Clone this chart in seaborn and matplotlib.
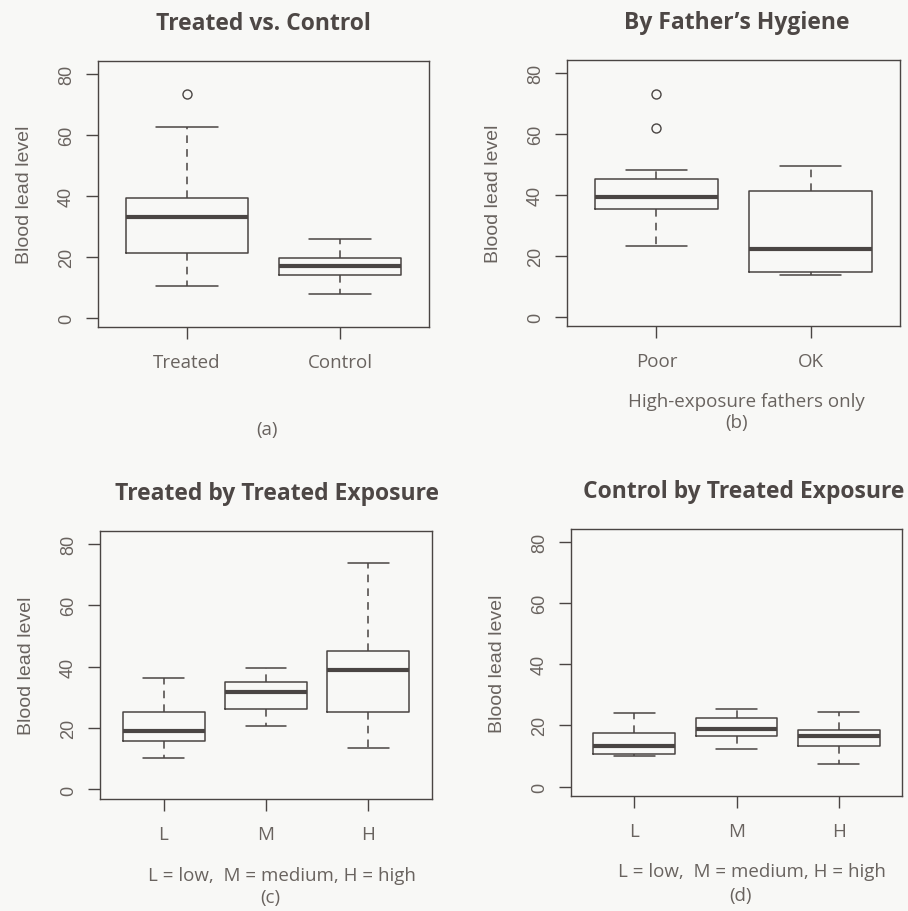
import numpy as np
import pandas as pd
import matplotlib
matplotlib.use("Agg")
import matplotlib.pyplot as plt
import seaborn as sns

#valores: bigode inferior, Q1, mediana, Q3, bigode superior, outliers
#(a) Treated vs. Control
grupos_a = ["Treated", "Control"]
baixo_a = [10.4, 7.8]
q1_a = [21.2, 13.9]
mediana_a = [32.9, 16.8]
q3_a = [39.3, 19.7]
alto_a = [62.4, 25.8]
outliers_a = [[73.3], []]

#(b) By Father's Hygiene
grupos_b = ["Poor", "OK"]
baixo_b = [23.1, 13.6]
q1_b = [35.2, 14.6]
mediana_b = [39.1, 22.1]
q3_b = [45.0, 41.3]
alto_b = [48.1, 49.4]
outliers_b = [[62.0, 73.2], []]

#(c) Treated by Treated Exposure
grupos_c = ["L", "M", "H"]
baixo_c = [10.2, 20.6, 13.6]
q1_c = [15.7, 26.1, 25.1]
mediana_c = [19.2, 31.6, 38.8]
q3_c = [25.1, 35.0, 45.2]
alto_c = [36.2, 39.5, 73.7]
outliers_c = [[], [], []]

#(d) Control by Treated Exposure
grupos_d = ["L", "M", "H"]
baixo_d = [10.0, 12.2, 7.4]
q1_d = [10.6, 16.5, 13.4]
mediana_d = [13.1, 18.9, 16.5]
q3_d = [17.4, 22.3, 18.4]
alto_d = [24.1, 25.4, 24.5]
outliers_d = [[], [], []]

titulos = ["Treated vs. Control", "By Father\u2019s Hygiene",
           "Treated by Treated Exposure", "Control by Treated Exposure"]
y_ticks = [0, 20, 40, 60, 80]


#monta 13 pontos por grupo: os percentis do numpy caem nos indices 3, 6 e 9
#assim o seaborn reproduz exatamente o resumo
def pontos(lo, q1, med, q3, hi, outs):
    cauda = [hi] * (3 - len(outs)) + sorted(outs)
    return [lo, q1, q1, q1, med, med, med, q3, q3, q3] + cauda


def tabela(grupos, baixo, q1, med, q3, alto, outs):
    linhas = []
    for i, g in enumerate(grupos):
        for v in pontos(baixo[i], q1[i], med[i], q3[i], alto[i], outs[i]):
            linhas.append({"grupo": g, "nivel": v})
    return pd.DataFrame(linhas)


paineis = [
    tabela(grupos_a, baixo_a, q1_a, mediana_a, q3_a, alto_a, outliers_a),
    tabela(grupos_b, baixo_b, q1_b, mediana_b, q3_b, alto_b, outliers_b),
    tabela(grupos_c, baixo_c, q1_c, mediana_c, q3_c, alto_c, outliers_c),
    tabela(grupos_d, baixo_d, q1_d, mediana_d, q3_d, alto_d, outliers_d),
]
ordens = [grupos_a, grupos_b, grupos_c, grupos_d]

sns.set_style("white")
plt.rcParams['font.family'] = ['Open Sans', 'DejaVu Sans']
fonte_r = ['Liberation Sans', 'DejaVu Sans']  #parte do R (eixo y) usa helvetica

fundo = "#f8f8f6"
linha = "#4a4543"
texto = "#69635f"
tam = 13.5

fig = plt.figure(figsize=(9.08, 9.12), dpi=100, facecolor=fundo)
W, H = 908, 912

#caixas dos eixos em pixels (esq, topo, dir, base)
caixas = [(98, 62, 429, 328), (567, 61, 900, 327),
          (100, 532, 432, 800), (571, 530, 902, 797)]
titulo_x = [0.5, 0.51, 0.533, 0.523]

for k, df in enumerate(paineis):
    l, t, r, b = caixas[k]
    ax = fig.add_axes([l / W, 1 - b / H, (r - l) / W, (b - t) / H])
    ax.set_facecolor(fundo)
    sns.boxplot(data=df, x="grupo", y="nivel", order=ordens[k], ax=ax,
                fill=False, color=linha, linecolor=linha, width=0.8, whis=1.5,
                linewidth=1.1, fliersize=6.5,
                medianprops=dict(linewidth=3.0, color=linha),
                whiskerprops=dict(linestyle=(0, (5, 4)), color=linha),
                capprops=dict(color=linha),
                flierprops=dict(marker="o", markerfacecolor="none",
                                markeredgecolor=linha, markeredgewidth=1.0))
    n = len(ordens[k])
    ax.set_xlim(-0.5 - 0.04 * n, n - 0.5 + 0.04 * n)
    ax.set_ylim(-3.1, 84.2)
    ax.set_yticks(y_ticks)
    ax.set_yticklabels([str(v) for v in y_ticks], rotation=90, va="center",
                       family=fonte_r, fontsize=13)
    ax.tick_params(axis="both", direction="out", length=8.5, width=1.0,
                   bottom=True, left=True, color=linha, labelcolor=texto)
    ax.tick_params(axis="y", pad=8)
    ax.tick_params(axis="x", pad=10, labelsize=tam)
    ax.set_xlabel("")
    ax.set_ylabel("Blood lead level", color=texto, fontsize=14,
                  family=fonte_r, labelpad=18)
    for s in ax.spines.values():
        s.set_visible(True)
        s.set_color(linha)
        s.set_linewidth(1.0)
    ax.set_title(titulos[k], fontsize=16.5, fontweight="bold", color="#4d4745",
                 pad=23, x=titulo_x[k])

#legendas de baixo
fig.text(267 / W, 1 - 430 / H, "(a)", ha="center", va="center", fontsize=tam, color=texto)
fig.text(746 / W, 1 - 402 / H, "High-exposure fathers only", ha="center", va="center",
         fontsize=tam, color=texto)
fig.text(737 / W, 1 - 423 / H, "(b)", ha="center", va="center", fontsize=tam, color=texto)
fig.text(282 / W, 1 - 876 / H, "L = low,  M = medium, H = high", ha="center", va="center",
         fontsize=tam, color=texto)
fig.text(270 / W, 1 - 898 / H, "(c)", ha="center", va="center", fontsize=tam, color=texto)
fig.text(752 / W, 1 - 872 / H, "L = low,  M = medium, H = high", ha="center", va="center",
         fontsize=tam, color=texto)
fig.text(741 / W, 1 - 896 / H, "(d)", ha="center", va="center", fontsize=tam, color=texto)

fig.savefig("out.png", dpi=100, facecolor=fundo)
